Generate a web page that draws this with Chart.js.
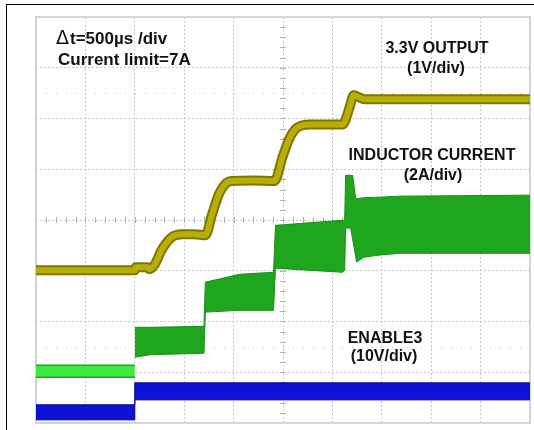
<!DOCTYPE html>
<html>
<head>
<meta charset="utf-8">
<script src="https://cdn.jsdelivr.net/npm/chart.js@4/dist/chart.umd.min.js"></script>
<style>
  body { margin: 0; background: #fff; }
  #wrap { position: relative; width: 534px; height: 430px; }
  #frame { position: absolute; left: 6px; top: 4px; right: 0; bottom: 0;
           border-top: 1px solid #000; border-left: 1px solid #000; pointer-events: none; }
</style>
</head>
<body>
<div id="wrap">
  <canvas id="scope" width="534" height="430"></canvas>
  <div id="frame"></div>
</div>
<script>
// time in µs, trigger at 0, 500 µs/div
const outTime = [-1000, 0, 10, 126, 146, 197, 278, 379, 481, 600, 714, 785, 856, 927, 978, 1200, 1414, 1495, 1566, 1637, 1769, 2103, 2174, 2215, 2256, 2327, 4000];
const outVolts = [0, 0, 0.06, 0.06, 0.02, 0.10, 0.42, 0.66, 0.71, 0.71, 0.69, 1.12, 1.52, 1.72, 1.76, 1.77, 1.76, 2.23, 2.60, 2.80, 2.87, 2.87, 3.21, 3.45, 3.42, 3.37, 3.37];

// inductor current envelope (A), before and after enable
const curPreTime = [-1000, 0];
const curPreHigh = [0.24, 0.24];
const curPreLow = [-0.24, -0.24];
const curTime = [0, 150, 700, 714, 1059, 1404, 1424, 2103, 2124, 2134, 2185, 2205, 2235, 2245, 2316, 2479, 2682, 4000];
const curHigh = [1.73, 1.73, 1.77, 3.51, 3.82, 3.90, 5.75, 5.95, 5.95, 7.72, 7.72, 7.72, 6.82, 6.80, 6.84, 6.86, 6.90, 6.94];
const curLow = [0.55, 0.65, 0.71, 2.33, 2.40, 2.40, 4.06, 3.90, 3.98, 5.64, 5.64, 5.20, 4.53, 4.30, 4.49, 4.58, 4.65, 4.65];

// enable envelope (V)
const enTime = [-1000, -1, 0, 4000];
const enHigh = [1.38, 1.38, 5.71, 5.71];
const enLow = [-1.58, -1.58, 2.36, 2.36];

// screen setup: divisions and channel ground levels (in divisions from centre)
const usPerDiv = 500, triggerDiv = 2;
const outPerDiv = 1, outGround = -0.99;
const curPerDiv = 2, curGround = -2.98;
const enPerDiv = 10, enGround = -3.78;

function pts(xs, ys) {
  return xs.map((x, i) => ({ x: x, y: ys[i] }));
}
function chanAxis(perDiv, ground) {
  return { type: "linear", display: false, min: (-4 - ground) * perDiv, max: (4 - ground) * perDiv };
}

const overlay = {
  id: "overlay",
  beforeDatasetsDraw(chart) {
    const { ctx, chartArea: a } = chart;
    const xs = chart.scales.x, ys = chart.scales.yGrid;
    const cx = xs.getPixelForValue(usPerDiv * (5 - triggerDiv));
    const cy = ys.getPixelForValue(0);
    ctx.save();
    ctx.strokeStyle = "#b0b0b0";
    ctx.lineWidth = 1;
    ctx.beginPath();
    for (let t = xs.min; t <= xs.max; t += usPerDiv / 5) {
      const px = Math.round(xs.getPixelForValue(t)) + 0.5;
      ctx.moveTo(px, cy - 3); ctx.lineTo(px, cy + 3);
    }
    for (let d = -4; d <= 4; d += 0.2) {
      const py = Math.round(ys.getPixelForValue(d)) + 0.5;
      ctx.moveTo(cx - 3, py); ctx.lineTo(cx + 3, py);
    }
    ctx.stroke();
    // dotted marker rows
    ctx.fillStyle = "#c4c4c4";
    [2.5, -2.5].forEach(d => {
      const py = Math.round(ys.getPixelForValue(d));
      for (let t = xs.min; t <= xs.max; t += usPerDiv / 5) {
        ctx.fillRect(Math.round(xs.getPixelForValue(t)), py, 1, 1);
      }
    });
    // frame
    ctx.strokeStyle = "#d4d4d4";
    ctx.lineWidth = 2;
    ctx.strokeRect(a.left, a.top, a.right - a.left, a.bottom - a.top);
    ctx.restore();
  },
  afterDraw(chart) {
    const ctx = chart.ctx;
    ctx.save();
    ctx.fillStyle = "#111";
    ctx.textBaseline = "middle";
    ctx.textAlign = "left";
    ctx.font = "19px 'DejaVu Sans'";
    ctx.fillText("\u0394", 56, 39);
    ctx.font = "bold 17px 'Liberation Sans', Arial";
    ctx.fillText("t=500\u00b5s /div", 70, 39);
    ctx.fillText("Current limit=7A", 58, 60);
    ctx.textAlign = "center";
    ctx.font = "bold 16px 'Liberation Sans', Arial";
    ctx.fillText("3.3V OUTPUT", 437, 49);
    ctx.fillText("(1V/div)", 436, 69);
    ctx.fillText("INDUCTOR CURRENT", 432, 156);
    ctx.fillText("(2A/div)", 433, 176);
    ctx.fillText("ENABLE3", 385, 339);
    ctx.fillText("(10V/div)", 384, 357);
    ctx.restore();
  }
};

new Chart(document.getElementById("scope"), {
  type: "line",
  data: {
    datasets: [
      { data: pts(outTime, outVolts), yAxisID: "yOut", borderColor: "#b8ae08", borderWidth: 6,
        cubicInterpolationMode: "monotone", pointRadius: 0, fill: false },
      { data: pts(outTime, outVolts), yAxisID: "yOut", borderColor: "#7f7600", borderWidth: 10,
        cubicInterpolationMode: "monotone", pointRadius: 0, fill: false },
      { data: pts(curPreTime, curPreLow), yAxisID: "yCur", borderColor: "#1fa51f", borderWidth: 1.5, pointRadius: 0, fill: false },
      { data: pts(curPreTime, curPreHigh), yAxisID: "yCur", borderColor: "#1fa51f", borderWidth: 1.5, pointRadius: 0,
        fill: "-1", backgroundColor: "#3fea3f" },
      { data: pts(curTime, curLow), yAxisID: "yCur", borderColor: "#178f17", borderWidth: 1, pointRadius: 0, fill: false },
      { data: pts(curTime, curHigh), yAxisID: "yCur", borderColor: "#178f17", borderWidth: 1, pointRadius: 0,
        fill: "-1", backgroundColor: "#1fa61f" },
      { data: pts(enTime, enLow), yAxisID: "yEn", borderColor: "#000090", borderWidth: 1, pointRadius: 0, fill: false },
      { data: pts(enTime, enHigh), yAxisID: "yEn", borderColor: "#000090", borderWidth: 1, pointRadius: 0,
        fill: "-1", backgroundColor: "#0d12d6" }
    ]
  },
  options: {
    responsive: false,
    animation: false,
    layout: { padding: { left: 36, top: 17, right: 4, bottom: 7 } },
    plugins: { legend: { display: false }, tooltip: { enabled: false } },
    scales: {
      x: {
        type: "linear",
        min: -triggerDiv * usPerDiv,
        max: (10 - triggerDiv) * usPerDiv,
        ticks: { display: false, stepSize: usPerDiv },
        grid: { color: "#c8c8c8", lineWidth: 1, drawTicks: false },
        border: { display: false, dash: [2, 2] }
      },
      yGrid: {
        type: "linear",
        position: "left",
        min: -4,
        max: 4,
        ticks: { display: false, stepSize: 1 },
        grid: { color: "#c8c8c8", lineWidth: 1, drawTicks: false },
        border: { display: false, dash: [2, 2] }
      },
      yOut: chanAxis(outPerDiv, outGround),
      yCur: chanAxis(curPerDiv, curGround),
      yEn: chanAxis(enPerDiv, enGround)
    }
  },
  plugins: [overlay]
});
</script>
</body>
</html>
